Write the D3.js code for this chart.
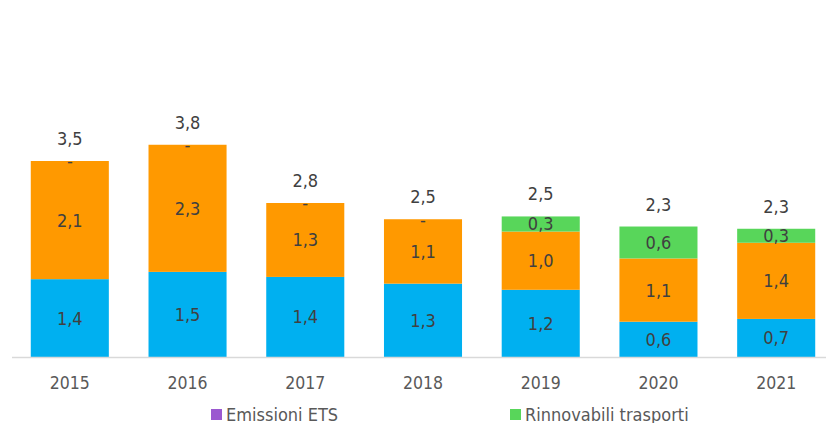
<!DOCTYPE html>
<html>
<head>
<meta charset="utf-8">
<script src="https://cdn.jsdelivr.net/npm/d3@7"></script>
<style>
  body { margin: 0; background: #fff; }
  svg text { font-family: "DejaVu Sans Condensed", "DejaVu Sans", sans-serif; }
</style>
</head>
<body>
<div id="chart"></div>
<script>
let years = ["2015", "2016", "2017", "2018", "2019", "2020", "2021"];
let civili = [1.39, 1.52, 1.43, 1.31, 1.20, 0.63, 0.68];
let efficienza = [2.11, 2.27, 1.32, 1.15, 1.04, 1.13, 1.36];
let ets = [0, 0, 0, 0, null, null, null];
let rinnovabili = [null, null, null, null, 0.27, 0.57, 0.25];

let seriesNames = ["Civili", "Efficienza", "Emissioni ETS", "Rinnovabili trasporti"];
let seriesColors = ["#00b0f0", "#ff9900", "#9b59d0", "#58d65a"];
let legendShown = ["Emissioni ETS", "Rinnovabili trasporti"];

let width = 826, height = 423;
let fmt = (v) => v.toFixed(1).replace(".", ",");

let svg = d3.select("#chart").append("svg")
    .attr("width", width)
    .attr("height", height);

let x = d3.scaleBand()
    .domain(years)
    .range([11, 835])
    .paddingInner(0.337)
    .paddingOuter(0.168);

let y = d3.scaleLinear()
    .domain([0, 4])
    .range([357, 133]);

let rows = years.map((yr, i) => ({
    year: yr,
    "Civili": civili[i],
    "Efficienza": efficienza[i],
    "Emissioni ETS": ets[i],
    "Rinnovabili trasporti": rinnovabili[i]
}));

let stack = d3.stack()
    .keys(seriesNames)
    .value((d, k) => d[k] || 0);
let layers = stack(rows);

// bars
layers.forEach((layer, si) => {
    svg.append("g")
        .selectAll("rect")
        .data(layer)
        .enter().append("rect")
        .attr("x", (d) => x(d.data.year))
        .attr("width", x.bandwidth())
        .attr("y", (d) => y(d[1]))
        .attr("height", (d) => y(d[0]) - y(d[1]))
        .attr("fill", seriesColors[si]);
});

// axis line
svg.append("line")
    .attr("x1", 12).attr("x2", 826)
    .attr("y1", y(0) + 0.5).attr("y2", y(0) + 0.5)
    .attr("stroke", "#d9d9d9")
    .attr("stroke-width", 1.5);

// segment labels
layers.forEach((layer, si) => {
    let key = seriesNames[si];
    svg.append("g")
        .selectAll("text")
        .data(layer.filter((d) => d.data[key] !== null))
        .enter().append("text")
        .attr("x", (d) => x(d.data.year) + x.bandwidth() / 2)
        .attr("y", (d) => (y(d[0]) + y(d[1])) / 2)
        .attr("dy", "0.36em")
        .attr("text-anchor", "middle")
        .attr("font-size", 18)
        .attr("fill", "#404040")
        .text((d) => d.data[key] === 0 ? "-" : fmt(d.data[key]));
});

// totals
svg.append("g")
    .selectAll("text")
    .data(rows)
    .enter().append("text")
    .attr("x", (d) => x(d.year) + x.bandwidth() / 2)
    .attr("y", (d) => y(d3.sum(seriesNames, (k) => d[k] || 0)) - 16)
    .attr("text-anchor", "middle")
    .attr("font-size", 18)
    .attr("fill", "#404040")
    .text((d) => fmt(d3.sum(seriesNames, (k) => d[k] || 0)));

// year labels
svg.append("g")
    .selectAll("text")
    .data(years)
    .enter().append("text")
    .attr("x", (d) => x(d) + x.bandwidth() / 2)
    .attr("y", 389)
    .attr("text-anchor", "middle")
    .attr("font-size", 17.5)
    .attr("fill", "#595959")
    .text((d) => d);

// legend
let legendX = [211, 510];
let legend = svg.append("g");
legendShown.forEach((name, i) => {
    let g = legend.append("g").attr("transform", "translate(" + legendX[i] + ",409)");
    g.append("rect")
        .attr("width", 11).attr("height", 11)
        .attr("fill", seriesColors[seriesNames.indexOf(name)]);
    g.append("text")
        .attr("x", 15)
        .attr("y", 11.5)
        .attr("font-size", 18)
        .attr("fill", "#595959")
        .text(name);
});
</script>
</body>
</html>
